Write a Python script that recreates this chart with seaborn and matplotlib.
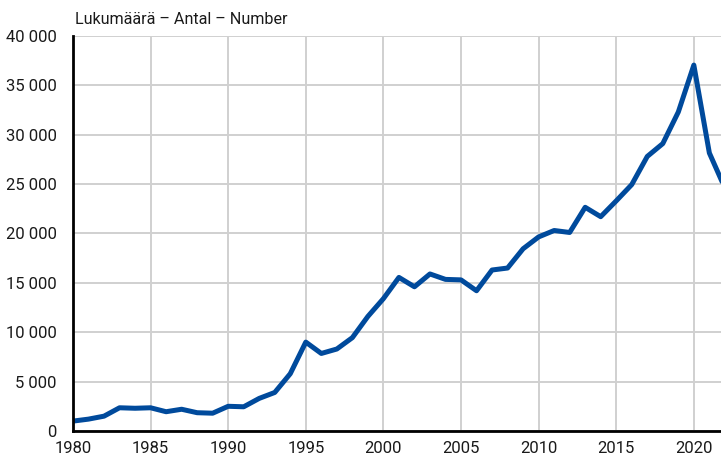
import matplotlib
matplotlib.use("Agg")
import matplotlib.pyplot as plt
import seaborn as sns
import pandas as pd
from matplotlib.ticker import FuncFormatter

years = list(range(1980, 2023))
counts = [
    1000, 1200, 1500, 2350, 2300, 2350, 1950, 2200, 1850, 1800,
    2500, 2450, 3300, 3900, 5800, 9000, 7850, 8300, 9450, 11600,
    13400, 15550, 14600, 15900, 15350, 15300, 14200, 16300, 16500, 18450,
    19650, 20300, 20100, 22650, 21700, 23300, 24950, 27800, 29100, 32300,
    37050, 28150, 24600,
]
y_ticks = list(range(0, 40001, 5000))
x_ticks = list(range(1980, 2021, 5))
title = "Lukumäärä – Antal – Number"

df = pd.DataFrame({"Vuosi": years, "Lukumäärä": counts})

sns.set_theme(style="white")
plt.rcParams["font.family"] = ["Roboto", "DejaVu Sans"]

fig = plt.figure(figsize=(7.21, 4.58), dpi=100)
ax = fig.add_axes([0.1012, 0.059, 0.8988, 0.8625])

sns.lineplot(data=df, x="Vuosi", y="Lukumäärä", ax=ax, color="#004a9c",
             linewidth=3.6, solid_joinstyle="round", solid_capstyle="round",
             clip_on=True, zorder=3)

ax.set_xlim(1980, 2021.75)
ax.set_ylim(0, 40000)
ax.set_xticks(x_ticks)
ax.set_yticks(y_ticks)
ax.yaxis.set_major_formatter(FuncFormatter(lambda v, p: f"{int(v):,}".replace(",", " ")))

ax.grid(True, color="#d0d0d0", linewidth=1.4)
ax.set_axisbelow(True)
for side in ["top", "right"]:
    ax.spines[side].set_visible(False)
for side in ["left", "bottom"]:
    ax.spines[side].set_color("black")
    ax.spines[side].set_linewidth(2)
    ax.spines[side].set_zorder(4)

ax.tick_params(axis="both", length=0, labelsize=12, colors="#1a1a1a")
ax.tick_params(axis="y", pad=11.5)
ax.tick_params(axis="x", pad=7.5)
ax.set_xlabel("")
ax.set_ylabel("")

fig.text(0.104, 0.958, title, ha="left", va="center", fontsize=11.6, color="#1a1a1a")

fig.savefig("out.png", dpi=100)
